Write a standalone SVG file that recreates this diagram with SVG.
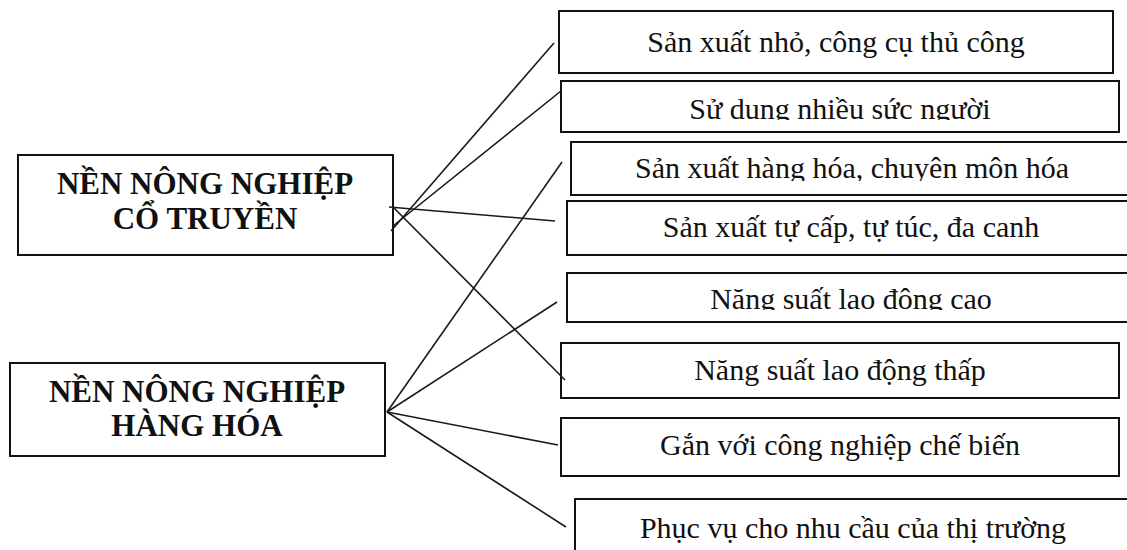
<svg xmlns="http://www.w3.org/2000/svg" width="1127" height="550" viewBox="0 0 1127 550">
<style>
.box{fill:#fff;stroke:#111;stroke-width:2}
.t{font-family:"Liberation Serif","Times New Roman",serif;font-size:30px;fill:#111;text-anchor:middle}
.b{font-weight:bold;font-size:31px}
.c{stroke:#1a1a1a;stroke-width:1.6;fill:none}
</style>
<defs>
<clipPath id="c2"><rect x="0" y="0" width="1127" height="120"/></clipPath>
<clipPath id="c3"><rect x="0" y="0" width="1127" height="181"/></clipPath>
<clipPath id="c5"><rect x="0" y="0" width="1127" height="310"/></clipPath>
</defs>
<rect width="1127" height="550" fill="#fff"/>
<g id="n-co-truyen"><rect class="box" x="18" y="155" width="375" height="100"/>
<text class="t b" x="205" y="194">NỀN NÔNG NGHIỆP</text><text class="t b" x="205" y="229">CỔ TRUYỀN</text></g>
<g id="n-hang-hoa"><rect class="box" x="10" y="363" width="375" height="93"/>
<text class="t b" x="197" y="402">NỀN NÔNG NGHIỆP</text><text class="t b" x="197" y="436">HÀNG HÓA</text></g>
<g id="r1"><rect class="box" x="559" y="11" width="554" height="62"/><text class="t" x="836" y="52">Sản xuất nhỏ, công cụ thủ công</text></g>
<g id="r2"><rect class="box" x="561" y="81" width="558" height="51"/><text class="t" x="840" y="119" clip-path="url(#c2)">Sử dụng nhiều sức người</text></g>
<g id="r3"><rect class="box" x="571" y="142" width="570" height="53"/><text class="t" x="852" y="178" clip-path="url(#c3)">Sản xuất hàng hóa, chuyên môn hóa</text></g>
<g id="r4"><rect class="box" x="567" y="201" width="570" height="54"/><text class="t" x="851" y="237">Sản xuất tự cấp, tự túc, đa canh</text></g>
<g id="r5"><rect class="box" x="567" y="273" width="570" height="49"/><text class="t" x="851" y="309" clip-path="url(#c5)">Năng suất lao động cao</text></g>
<g id="r6"><rect class="box" x="561" y="343" width="558" height="55"/><text class="t" x="840" y="380">Năng suất lao động thấp</text></g>
<g id="r7"><rect class="box" x="561" y="418" width="558" height="58"/><text class="t" x="840" y="455">Gắn với công nghiệp chế biến</text></g>
<g id="r8"><rect class="box" x="575" y="499" width="570" height="60"/><text class="t" x="853" y="538">Phục vụ cho nhu cầu của thị trường</text></g>
<g id="connectors">
<line class="c" x1="391" y1="231" x2="554" y2="43"/>
<line class="c" x1="393" y1="226" x2="561" y2="91"/>
<line class="c" x1="389" y1="207" x2="555" y2="221"/>
<line class="c" x1="394" y1="208" x2="565" y2="380"/>
<line class="c" x1="387" y1="412" x2="562" y2="162"/>
<line class="c" x1="387" y1="412" x2="557" y2="302"/>
<line class="c" x1="387" y1="412" x2="558" y2="445"/>
<line class="c" x1="387" y1="412" x2="566" y2="527"/>
</g>
</svg>
